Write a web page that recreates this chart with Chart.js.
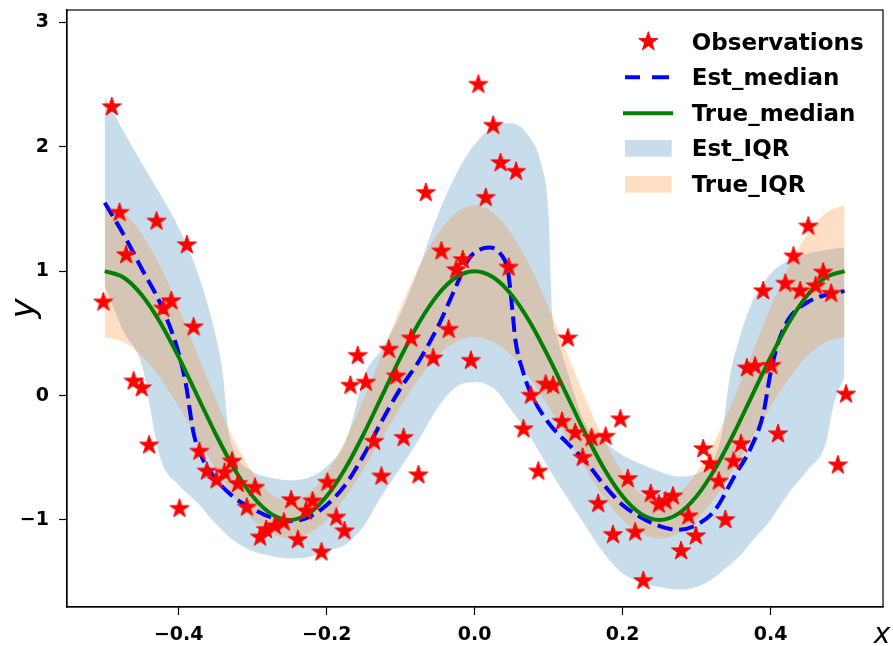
<!DOCTYPE html>
<html>
<head>
<meta charset="utf-8">
<script src="https://cdn.jsdelivr.net/npm/chart.js@4.4.1/dist/chart.umd.min.js"></script>
<style>
	html, body { margin: 0; padding: 0; background: #fff; }
	#wrap { width: 893px; height: 646px; }
</style>
</head>
<body>
<div id="wrap"><canvas id="quantileChart" width="893" height="646"></canvas></div>
<script>
// observations
const obsX = [-0.4905, -0.48, -0.43, -0.389, -0.471, -0.502, -0.41, -0.421, -0.38, -0.461,
	-0.45, -0.44, -0.399, -0.372, -0.362, -0.349, -0.338, -0.328, -0.32, -0.297,
	-0.308, -0.29, -0.282, -0.27, -0.258, -0.248, -0.239, -0.219, -0.228, -0.207,
	-0.199, -0.187, -0.176, -0.168, -0.158, -0.147, -0.116, -0.086, -0.106, -0.136,
	-0.096, -0.126, -0.076, -0.056, -0.035, -0.005, 0.126, 0.076, 0.096, 0.106,
	0.066, 0.086, 0.118, 0.136, 0.146, 0.005, 0.025, 0.035, 0.056, -0.066,
	0.015, -0.045, -0.016, -0.025, 0.046, 0.451, 0.431, 0.471, 0.39, 0.42,
	0.44, 0.461, 0.482, 0.368, 0.379, 0.401, 0.502, 0.41, 0.491, 0.197,
	0.177, 0.158, 0.207, 0.167, 0.187, 0.217, 0.228, 0.238, 0.249, 0.258,
	0.268, 0.289, 0.299, 0.279, 0.309, 0.318, 0.33, 0.339, 0.35, 0.36];
const obsY = [2.32, 1.47, 1.40, 1.21, 1.13, 0.75, 0.76, 0.70, 0.55, 0.115,
	0.06, -0.40, -0.91, -0.45, -0.61, -0.68, -0.62, -0.53, -0.71, -0.74,
	-0.90, -1.14, -1.08, -1.05, -1.02, -0.84, -1.16, -0.85, -0.93, -1.26,
	-0.70, -0.98, -1.09, 0.08, 0.32, 0.105, 0.37, 0.46, 0.155, -0.37,
	-0.34, -0.65, -0.64, 0.30, 0.53, 0.28, 0.46, 0.0, 0.09, 0.08,
	-0.27, -0.61, -0.21, -0.30, -0.50, 2.50, 2.17, 1.87, 1.80, 1.63,
	1.59, 1.16, 1.09, 1.01, 1.03, 1.36, 1.12, 0.99, 0.84, 0.90,
	0.84, 0.88, 0.82, 0.22, 0.235, 0.24, 0.01, -0.31, -0.56, -0.19,
	-0.33, -0.34, -0.67, -0.87, -1.12, -1.10, -1.49, -0.79, -0.875, -0.85,
	-0.81, -0.97, -1.13, -1.25, -0.43, -0.55, -0.69, -1.00, -0.53, -0.39];

// estimated median
const estX = [-0.5, -0.475, -0.45, -0.425, -0.4, -0.39, -0.38, -0.37, -0.35, -0.325,
	-0.3, -0.275, -0.25, -0.225, -0.2, -0.175, -0.15, -0.125, -0.1, -0.075,
	-0.05, -0.025, -0.01, 0, 0.02, 0.035, 0.045, 0.05, 0.055, 0.065,
	0.075, 0.1, 0.125, 0.15, 0.175, 0.2, 0.225, 0.25, 0.275, 0.3,
	0.325, 0.35, 0.375, 0.39, 0.4, 0.41, 0.425, 0.45, 0.475, 0.5];
const estMedian = [1.55, 1.30, 1.02, 0.74, 0.34, 0.08, -0.30, -0.48, -0.67, -0.82,
	-0.91, -0.98, -1.01, -0.98, -0.88, -0.72, -0.48, -0.20, 0.06, 0.28,
	0.55, 0.88, 1.08, 1.15, 1.19, 1.14, 1.0, 0.75, 0.45, 0.20,
	0.03, -0.22, -0.38, -0.53, -0.72, -0.88, -0.98, -1.05, -1.08, -1.04,
	-0.92, -0.66, -0.40, -0.15, 0.18, 0.42, 0.62, 0.75, 0.81, 0.84];

// estimated IQR band
const bandX = [-0.5, -0.475, -0.45, -0.425, -0.4, -0.375, -0.35, -0.34, -0.333, -0.325,
	-0.3, -0.275, -0.25, -0.225, -0.2, -0.175, -0.16, -0.15, -0.125, -0.1,
	-0.075, -0.05, -0.025, 0, 0.025, 0.05, 0.075, 0.09, 0.1, 0.105,
	0.11, 0.125, 0.15, 0.175, 0.2, 0.225, 0.25, 0.275, 0.3, 0.325,
	0.335, 0.345, 0.36, 0.375, 0.4, 0.425, 0.45, 0.475, 0.485, 0.5];
const estHigh = [2.40, 2.13, 1.87, 1.62, 1.35, 1.00, 0.48, 0.15, -0.27, -0.45,
	-0.61, -0.66, -0.68, -0.66, -0.57, -0.38, -0.08, 0.15, 0.38, 0.66,
	1.03, 1.45, 1.78, 2.02, 2.16, 2.19, 2.07, 1.86, 1.45, 0.64,
	0.50, 0.20, -0.23, -0.37, -0.48, -0.55, -0.61, -0.65, -0.63, -0.49,
	-0.28, 0.15, 0.50, 0.75, 0.98, 1.09, 1.14, 1.17, 1.18, 1.19];
const estLow = [0.88, 0.52, 0.25, -0.50, -0.72, -0.86, -1.03, -1.09, -1.13, -1.17,
	-1.25, -1.29, -1.31, -1.30, -1.25, -1.20, -1.12, -1.05, -0.80, -0.58,
	-0.35, -0.10, 0.07, 0.11, 0.06, -0.12, -0.33, -0.48, -0.58, -0.63,
	-0.68, -0.82, -1.05, -1.27, -1.43, -1.50, -1.54, -1.56, -1.54, -1.46,
	-1.41, -1.36, -1.28, -1.17, -1.00, -0.78, -0.60, -0.38, -0.08, 0.155];

// true median and IQR
const trueX = [-0.5, -0.475, -0.45, -0.425, -0.4, -0.375, -0.35, -0.325, -0.3, -0.275,
	-0.25, -0.225, -0.2, -0.175, -0.15, -0.125, -0.1, -0.075, -0.05, -0.025,
	0, 0.025, 0.05, 0.075, 0.1, 0.125, 0.15, 0.175, 0.2, 0.225,
	0.25, 0.275, 0.3, 0.325, 0.35, 0.375, 0.4, 0.425, 0.45, 0.475, 0.5];
const trueMedian = [1, 0.951, 0.809, 0.588, 0.309, 0, -0.309, -0.588, -0.809, -0.951,
	-1, -0.951, -0.809, -0.588, -0.309, 0, 0.309, 0.588, 0.809, 0.951,
	1, 0.951, 0.809, 0.588, 0.309, 0, -0.309, -0.588, -0.809, -0.951,
	-1, -0.951, -0.809, -0.588, -0.309, 0, 0.309, 0.588, 0.809, 0.951, 1];
const trueHigh = [1.53, 1.47, 1.30, 1.04, 0.71, 0.34, -0.03, -0.36, -0.62, -0.79,
	-0.85, -0.79, -0.62, -0.36, -0.03, 0.34, 0.71, 1.04, 1.30, 1.47,
	1.53, 1.47, 1.30, 1.04, 0.71, 0.34, -0.03, -0.36, -0.62, -0.79,
	-0.85, -0.79, -0.62, -0.36, -0.03, 0.34, 0.71, 1.04, 1.30, 1.47, 1.53];
const trueLow = [0.47, 0.43, 0.32, 0.14, -0.09, -0.34, -0.59, -0.82, -1.00, -1.11,
	-1.15, -1.11, -1.00, -0.82, -0.59, -0.34, -0.09, 0.14, 0.32, 0.43,
	0.47, 0.43, 0.32, 0.14, -0.09, -0.34, -0.59, -0.82, -1.00, -1.11,
	-1.15, -1.11, -1.00, -0.82, -0.59, -0.34, -0.09, 0.14, 0.32, 0.43, 0.47];

// axes
const xTicks = [-0.4, -0.2, 0, 0.2, 0.4];
const xTickLabels = ['\u22120.4', '\u22120.2', '0.0', '0.2', '0.4'];
const yTicks = [-1, 0, 1, 2, 3];
const yTickLabels = ['\u22121', '0', '1', '2', '3'];
const legendLabels = ['Observations', 'Est_median', 'True_median', 'Est_IQR', 'True_IQR'];

const FONT = "'DejaVu Sans', sans-serif";
const BLUE_FILL = 'rgba(31, 119, 180, 0.25)';
const ORANGE_FILL = 'rgba(255, 127, 14, 0.25)';

function pts(xs, ys) {
	return xs.map((x, i) => ({ x: x, y: ys[i] }));
}

// filled red star, like matplotlib's '*' marker
function makeStar(R) {
	const c = document.createElement('canvas');
	const size = Math.ceil(R * 2 + 4);
	c.width = size;
	c.height = size;
	const g = c.getContext('2d');
	drawStar(g, size / 2, size / 2, R);
	return c;
}

function drawStar(g, cx, cy, R) {
	const r = R * 0.382;
	g.beginPath();
	for (let k = 0; k < 10; k++) {
		const rad = k % 2 === 0 ? R : r;
		const a = -Math.PI / 2 + k * Math.PI / 5;
		const px = cx + rad * Math.cos(a);
		const py = cy + rad * Math.sin(a);
		if (k === 0) g.moveTo(px, py);
		else g.lineTo(px, py);
	}
	g.closePath();
	g.fillStyle = '#ff0000';
	g.fill();
	g.lineWidth = 1;
	g.strokeStyle = '#ff0000';
	g.stroke();
}

const starImg = makeStar(10);

// frame, legend and axis labels
const decorPlugin = {
	id: 'decor',
	afterDraw(chart) {
		const ctx = chart.ctx;
		const a = chart.chartArea;
		ctx.save();
		ctx.strokeStyle = '#000';
		ctx.lineWidth = 1.2;
		ctx.strokeRect(a.left, a.top, a.right - a.left, a.bottom - a.top);

		// legend
		const rows = [41.7, 77.3, 113.3, 148.3, 184.3];
		drawStar(ctx, 648.3, rows[0], 10);

		ctx.strokeStyle = '#0000ff';
		ctx.lineWidth = 4;
		ctx.beginPath();
		ctx.moveTo(625, rows[1]);
		ctx.lineTo(640, rows[1]);
		ctx.moveTo(652, rows[1]);
		ctx.lineTo(669, rows[1]);
		ctx.stroke();

		ctx.strokeStyle = '#008000';
		ctx.beginPath();
		ctx.moveTo(623, rows[2]);
		ctx.lineTo(673, rows[2]);
		ctx.stroke();

		ctx.fillStyle = BLUE_FILL;
		ctx.fillRect(625, rows[3] - 8.3, 46.7, 16.7);
		ctx.fillStyle = ORANGE_FILL;
		ctx.fillRect(625, rows[4] - 8.3, 46.7, 16.7);

		ctx.fillStyle = '#000';
		ctx.font = 'bold 23px ' + FONT;
		ctx.textAlign = 'left';
		ctx.textBaseline = 'alphabetic';
		legendLabels.forEach((t, i) => {
			ctx.fillText(t, 691.7, rows[i] + 8);
		});

		// axis labels
		ctx.font = 'italic 28px ' + FONT;
		ctx.textAlign = 'center';
		ctx.fillText('x', 882, 643);
		ctx.save();
		ctx.translate(34, (a.top + a.bottom) / 2);
		ctx.rotate(-Math.PI / 2);
		ctx.font = 'italic 34px ' + FONT;
		ctx.fillText('y', 0, 0);
		ctx.restore();

		ctx.restore();
	},
};

const tickFont = { family: FONT, size: 19, weight: 'bold' };

new Chart(document.getElementById('quantileChart').getContext('2d'), {
	type: 'line',
	data: {
		datasets: [
			{
				label: 'Observations',
				data: pts(obsX, obsY),
				showLine: false,
				pointStyle: starImg,
				pointRadius: 10,
				pointBorderWidth: 0,
			},
			{
				label: 'True_median',
				data: pts(trueX, trueMedian),
				borderColor: '#008000',
				borderWidth: 4,
				pointRadius: 0,
				fill: false,
				cubicInterpolationMode: 'monotone',
			},
			{
				label: 'Est_median',
				data: pts(estX, estMedian),
				borderColor: '#0000ff',
				borderWidth: 4,
				borderDash: [15.4, 6.7],
				pointRadius: 0,
				fill: false,
				cubicInterpolationMode: 'monotone',
			},
			{
				label: 'True_IQR',
				data: pts(trueX, trueHigh),
				borderWidth: 0,
				borderColor: 'rgba(0,0,0,0)',
				backgroundColor: ORANGE_FILL,
				pointRadius: 0,
				fill: '+1',
				cubicInterpolationMode: 'monotone',
			},
			{
				label: 'True_IQR_low',
				data: pts(trueX, trueLow),
				borderWidth: 0,
				borderColor: 'rgba(0,0,0,0)',
				pointRadius: 0,
				fill: false,
				cubicInterpolationMode: 'monotone',
			},
			{
				label: 'Est_IQR',
				data: pts(bandX, estHigh),
				borderWidth: 0,
				borderColor: 'rgba(0,0,0,0)',
				backgroundColor: BLUE_FILL,
				pointRadius: 0,
				fill: '+1',
				cubicInterpolationMode: 'monotone',
			},
			{
				label: 'Est_IQR_low',
				data: pts(bandX, estLow),
				borderWidth: 0,
				borderColor: 'rgba(0,0,0,0)',
				pointRadius: 0,
				fill: false,
				cubicInterpolationMode: 'monotone',
			},
		],
	},
	options: {
		responsive: false,
		animation: false,
		layout: { padding: { top: 10, right: 8, left: 0, bottom: 0 } },
		plugins: {
			legend: { display: false },
			tooltip: { enabled: false },
		},
		scales: {
			x: {
				type: 'linear',
				min: -0.551,
				max: 0.552,
				afterFit: (s) => {
					s.height = 39;
					s.paddingLeft = 0;
					s.paddingRight = 0;
				},
				afterBuildTicks: (s) => { s.ticks = xTicks.map((v) => ({ value: v })); },
				ticks: {
					callback: (v, i) => xTickLabels[i],
					font: tickFont,
					color: '#000',
					padding: 9,
					maxRotation: 0,
					autoSkip: false,
				},
				grid: { drawOnChartArea: false, tickLength: 8, tickWidth: 1.2, tickColor: '#000' },
				border: { color: '#000', width: 1.2 },
			},
			y: {
				type: 'linear',
				min: -1.70,
				max: 3.10,
				afterFit: (s) => {
					s.width = 67;
					s.paddingTop = 0;
					s.paddingBottom = 0;
				},
				afterBuildTicks: (s) => { s.ticks = yTicks.map((v) => ({ value: v })); },
				ticks: {
					callback: (v, i) => yTickLabels[i],
					font: tickFont,
					color: '#000',
					padding: 10,
					autoSkip: false,
				},
				grid: { drawOnChartArea: false, tickLength: 8, tickWidth: 1.2, tickColor: '#000' },
				border: { color: '#000', width: 1.2 },
			},
		},
	},
	plugins: [decorPlugin],
});
</script>
</body>
</html>
